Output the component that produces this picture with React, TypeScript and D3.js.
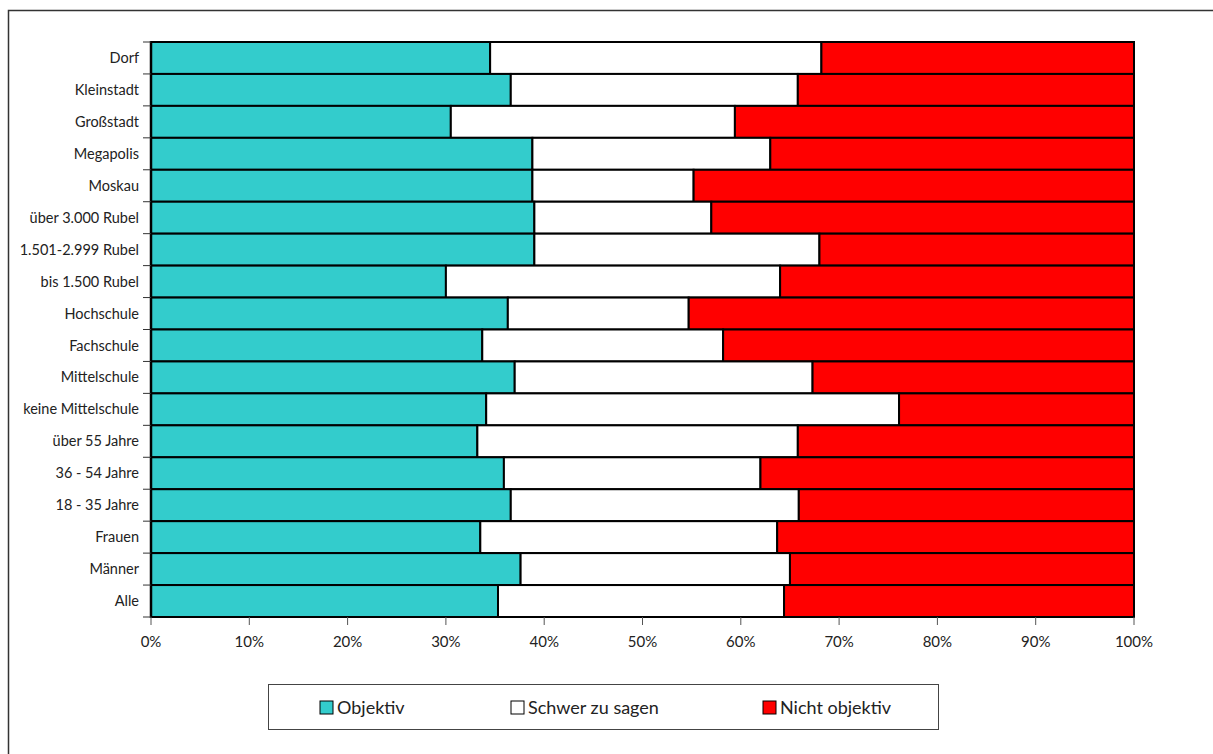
import React from "react";
import * as d3 from "d3";

const categories = [
  "Dorf", "Kleinstadt", "Großstadt", "Megapolis", "Moskau",
  "über 3.000 Rubel", "1.501-2.999 Rubel", "bis 1.500 Rubel",
  "Hochschule", "Fachschule", "Mittelschule", "keine Mittelschule",
  "über 55 Jahre", "36 - 54 Jahre", "18 - 35 Jahre", "Frauen", "Männer", "Alle",
];
const objektiv = [34.5, 36.6, 30.5, 38.8, 38.8, 39.0, 39.0, 30.0, 36.3, 33.7, 37.0, 34.1, 33.2, 35.9, 36.6, 33.5, 37.6, 35.3];
const schwer = [33.7, 29.2, 28.9, 24.2, 16.4, 18.0, 29.0, 34.0, 18.4, 24.5, 30.3, 42.0, 32.6, 26.1, 29.3, 30.2, 27.4, 29.1];
const nichtObjektiv = objektiv.map((o, i) => +(100 - o - schwer[i]).toFixed(1));
const seriesNames = ["Objektiv", "Schwer zu sagen", "Nicht objektiv"];
const seriesColors = ["#33CCCC", "#FFFFFF", "#FF0000"];
const xTicks = [0, 10, 20, 30, 40, 50, 60, 70, 80, 90, 100];

const W = 1213, H = 754;
const FONT = "Lato, 'Open Sans', sans-serif";

export default function App() {
  const x = d3.scaleLinear().domain([0, 100]).range([151, 1134]);
  const y = d3.scaleBand<string>().domain(categories).range([42, 617]).padding(0);
  const rows = categories.map((c, i) => ({ c, vals: [objektiv[i], schwer[i], nichtObjektiv[i]] }));
  const bw = y.bandwidth();
  const boundaries = d3.range(categories.length + 1).map((i) => 42 + i * bw);

  const legendX = [320, 511, 763];

  return (
    <svg width={W} height={H} style={{ position: "absolute", left: 0, top: 0, display: "block" }}
      fontFamily={FONT}>
      <rect x={0} y={0} width={W} height={H} fill="#fff" />
      <rect x={8.5} y={10.5} width={1400} height={900} fill="none" stroke="#333" strokeWidth={1.5} />

      {/* bars */}
      {rows.map((r) => {
        let acc = 0;
        return (
          <g key={r.c}>
            {r.vals.map((v, j) => {
              const x0 = x(acc);
              acc += v;
              const x1 = j === 2 ? x(100) : x(acc);
              return (
                <rect key={j} x={x0} y={y(r.c)!} width={x1 - x0} height={bw}
                  fill={seriesColors[j]} stroke="#000" strokeWidth={2} />
              );
            })}
          </g>
        );
      })}

      {/* y axis */}
      <line x1={151} x2={151} y1={41} y2={618} stroke="#000" strokeWidth={2.5} />
      {boundaries.map((b, i) => (
        <line key={i} x1={143} x2={151} y1={b} y2={b} stroke="#333" strokeWidth={1} />
      ))}
      {categories.map((c) => (
        <text key={c} x={139} y={y(c)! + bw / 2} dy="0.35em" textAnchor="end" fontSize={14.5} fill="#222">{c}</text>
      ))}

      {/* x axis */}
      {xTicks.map((t) => (
        <g key={t}>
          <line x1={x(t)} x2={x(t)} y1={617} y2={625} stroke="#555" strokeWidth={1} />
          <text x={x(t)} y={642} dy="0.35em" textAnchor="middle" fontSize={15} fill="#222">{t}%</text>
        </g>
      ))}

      {/* legend */}
      <rect x={268.5} y={684.5} width={670} height={45} fill="#fff" stroke="#444" strokeWidth={1} />
      {seriesNames.map((n, i) => (
        <g key={n}>
          <rect x={legendX[i]} y={701} width={13} height={13} fill={seriesColors[i]} stroke="#000" strokeWidth={1} />
          <text x={legendX[i] + 17} y={708} dy="0.35em" fontSize={18} fill="#222">{n}</text>
        </g>
      ))}
    </svg>
  );
}
